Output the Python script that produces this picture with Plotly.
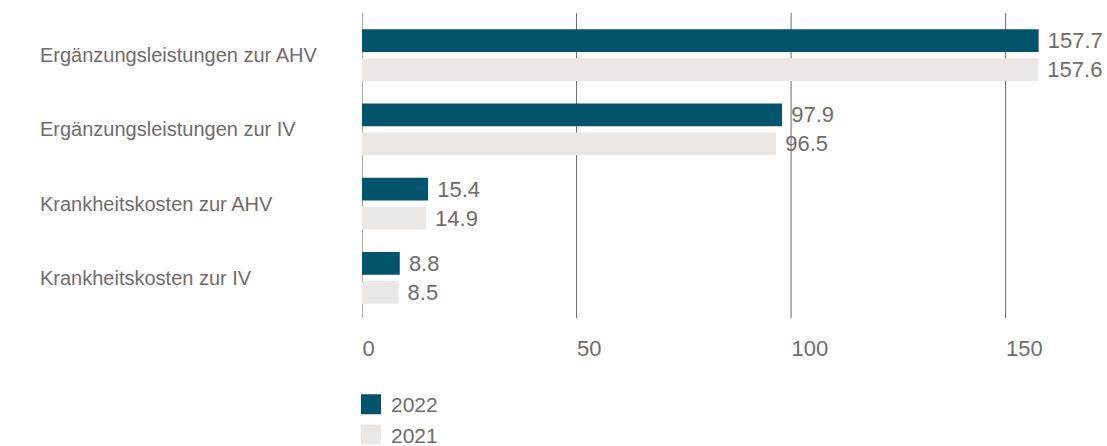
import plotly.graph_objects as go

# Leistungen (Mio. Fr.) nach Kategorie
categories = [
    "Ergänzungsleistungen zur AHV",
    "Ergänzungsleistungen zur IV",
    "Krankheitskosten zur AHV",
    "Krankheitskosten zur IV",
]
values_2022 = [157.7, 97.9, 15.4, 8.8]
values_2021 = [157.6, 96.5, 14.9, 8.5]
series_names = ["2022", "2021"]
tick_values = [0, 50, 100, 150]

color_2022 = "#02536c"
color_2021 = "#ebe7e4"
text_color = "#716c68"
font_family = "Liberation Sans, Arial, sans-serif"

fig = go.Figure()

for name, vals, col in [
    (series_names[0], values_2022, color_2022),
    (series_names[1], values_2021, color_2021),
]:
    fig.add_trace(go.Bar(
        name=name,
        x=vals,
        y=categories,
        orientation="h",
        marker=dict(color=col, line=dict(width=0)),
        text=[f" {v:.1f}" for v in vals],
        textposition="outside",
        constraintext="none",
        cliponaxis=False,
        textfont=dict(size=22, color=text_color, family=font_family),
        showlegend=False,
        hoverinfo="x+y",
    ))

# Legend entries with larger square symbols
for name, col in [(series_names[0], color_2022), (series_names[1], color_2021)]:
    fig.add_trace(go.Scatter(
        name=name,
        x=[None], y=[None],
        mode="markers",
        marker=dict(symbol="square", size=16, color=col, line=dict(width=4, color=col)),
        showlegend=True,
    ))

# Vertical grid lines reaching slightly past the plot area
for tv in tick_values:
    fig.add_shape(
        type="line", xref="x", yref="paper",
        x0=tv, x1=tv, y0=-3 / 297, y1=1 + 5 / 297,
        line=dict(color="#b0aca8" if tv == 0 else "#6e6b68", width=2 if tv == 0 else 1),
        layer="below",
    )

# Left-aligned category labels
for cat in categories:
    fig.add_annotation(
        x=-(362 - 38) / 729, xref="paper", xanchor="left",
        y=cat, yref="y", yanchor="middle",
        text=cat, showarrow=False,
        font=dict(size=20, color=text_color, family=font_family),
    )

fig.update_layout(
    width=1107, height=446,
    margin=dict(l=362, r=16, t=18, b=131, autoexpand=False),
    paper_bgcolor="white", plot_bgcolor="white",
    barmode="group",
    bargap=0.219,
    bargroupgap=0.207,
    font=dict(family=font_family, color=text_color, size=20),
    xaxis=dict(
        range=[0, 169.9],
        tickvals=tick_values,
        showgrid=False,
        zeroline=False,
        showline=False,
        ticks="outside", ticklen=27, tickcolor="rgba(0,0,0,0)",
        ticklabelstandoff=14,
        ticklabelposition="outside right",
        tickfont=dict(size=22, color=text_color, family=font_family),
        fixedrange=True,
    ),
    yaxis=dict(
        autorange="reversed",
        showticklabels=False,
        showgrid=False,
        zeroline=False,
        showline=False,
        fixedrange=True,
    ),
    legend=dict(
        x=-11 / 729, xanchor="left",
        y=-69 / 297, yanchor="top",
        font=dict(size=21, color=text_color, family=font_family),
        bgcolor="rgba(0,0,0,0)",
        itemsizing="trace",
        tracegroupgap=0,
    ),
)

fig.write_html("out.html")
